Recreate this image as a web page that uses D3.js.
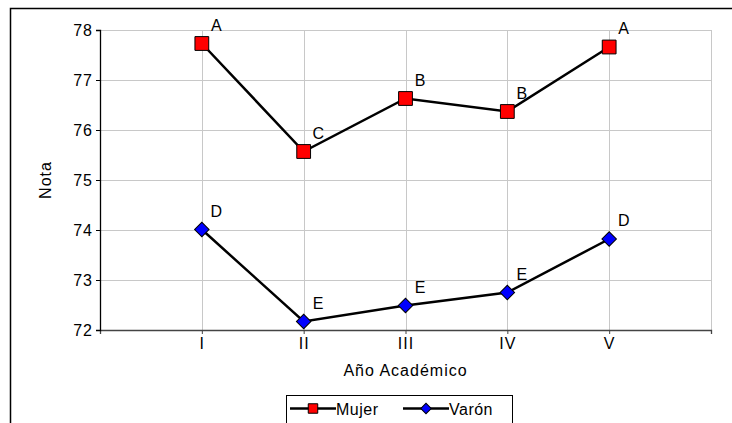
<!DOCTYPE html>
<html>
<head>
<meta charset="utf-8">
<script src="https://cdn.jsdelivr.net/npm/d3@7"></script>
<style>
  html, body { margin: 0; padding: 0; background: #fff; }
  svg { display: block; font-family: "Liberation Sans", Arial, sans-serif; }
  svg text { letter-spacing: 1px; }
</style>
</head>
<body>
<div id="chart"></div>
<script>
// datos del gráfico
var cursos = ["I", "II", "III", "IV", "V"];
var mujer = [77.73, 75.57, 76.63, 76.37, 77.66];
var varon = [74.01, 72.17, 72.49, 72.75, 73.82];
var letrasMujer = ["A", "C", "B", "B", "A"];
var letrasVaron = ["D", "E", "E", "E", "D"];
var yTicks = [72, 73, 74, 75, 76, 77, 78];

var width = 732, height = 423;
var margin = {left: 100, top: 30, right: 21, bottom: 93};
var pw = width - margin.left - margin.right,
    ph = height - margin.top - margin.bottom;

var svg = d3.select("#chart").append("svg")
    .attr("width", width)
    .attr("height", height);

// marco exterior
svg.append("path")
    .attr("d", "M10.5," + height + "V8.5H" + width)
    .attr("fill", "none")
    .attr("stroke", "#000")
    .attr("stroke-width", 1.5);

var x = d3.scaleLinear().domain([0, cursos.length + 1]).range([0, pw]);
var y = d3.scaleLinear().domain([72, 78]).range([ph, 0]);

var g = svg.append("g").attr("transform", "translate(" + margin.left + "," + margin.top + ")");

// rejilla
g.selectAll(".hgrid").data(yTicks).enter().append("line")
    .attr("x1", 0).attr("x2", pw)
    .attr("y1", function(d){ return Math.round(y(d)) + 0.5; })
    .attr("y2", function(d){ return Math.round(y(d)) + 0.5; })
    .attr("stroke", "#c8c8c8");
g.selectAll(".vgrid").data(d3.range(1, cursos.length + 2)).enter().append("line")
    .attr("x1", function(d){ return Math.round(x(d)) + 0.5; })
    .attr("x2", function(d){ return Math.round(x(d)) + 0.5; })
    .attr("y1", 0).attr("y2", ph)
    .attr("stroke", "#c8c8c8");

// eje x
var xAxis = g.append("g").attr("transform", "translate(0," + ph + ")")
    .call(d3.axisBottom(x).tickValues(d3.range(0, cursos.length + 2))
        .tickSize(4).tickPadding(4)
        .tickFormat(function(d){ return cursos[d - 1] || ""; }));
xAxis.select(".domain").attr("stroke", "#444").attr("stroke-width", 1.3);
xAxis.selectAll(".tick line").attr("stroke", "#444");
xAxis.selectAll("text").attr("font-size", 16).attr("fill", "#000")
    .attr("font-family", "Liberation Sans, Arial, sans-serif");

// eje y
var yAxis = g.append("g")
    .call(d3.axisLeft(y).tickValues(yTicks).tickSize(4).tickPadding(3)
        .tickFormat(d3.format("d")));
yAxis.select(".domain").attr("stroke", "#000").attr("stroke-width", 1.3);
yAxis.selectAll(".tick line").attr("stroke", "#000");
yAxis.selectAll("text").attr("font-size", 16).attr("fill", "#000")
    .attr("font-family", "Liberation Sans, Arial, sans-serif");

// títulos de ejes
svg.append("text")
    .attr("x", margin.left + x(3)).attr("y", 376)
    .attr("text-anchor", "middle").attr("font-size", 16)
    .text("Año Académico");
svg.append("text")
    .attr("transform", "translate(51,180) rotate(-90)")
    .attr("text-anchor", "middle").attr("font-size", 16)
    .text("Nota");

var line = d3.line()
    .x(function(d, i){ return x(i + 1); })
    .y(function(d){ return y(d); });

function serie(vals, letras, color, tam, giro) {
    g.append("path").datum(vals)
        .attr("d", line)
        .attr("fill", "none").attr("stroke", "#000").attr("stroke-width", 2.5);
    g.selectAll(null).data(vals).enter().append("path")
        .attr("d", d3.symbol().type(d3.symbolSquare).size(tam))
        .attr("transform", function(d, i){
            return "translate(" + x(i + 1) + "," + y(d) + ") rotate(" + giro + ")";
        })
        .attr("fill", color)
        .attr("stroke", "#000").attr("stroke-width", 1);
    g.selectAll(null).data(vals).enter().append("text")
        .attr("x", function(d, i){ return x(i + 1) + 15; })
        .attr("y", function(d){ return y(d) - 13; })
        .attr("text-anchor", "middle").attr("font-size", 16)
        .text(function(d, i){ return letras[i]; });
}

serie(mujer, letrasMujer, "#ff0000", 190, 0);
serie(varon, letrasVaron, "#0000ff", 105, 45);

// leyenda
var leg = svg.append("g");
leg.append("rect")
    .attr("x", 286.5).attr("y", 395.5).attr("width", 226).attr("height", 40)
    .attr("fill", "#fff").attr("stroke", "#000").attr("stroke-width", 1);
var items = [
    {nombre: "Mujer", x0: 290, color: "#ff0000", tam: 90, giro: 0},
    {nombre: "Varón", x0: 403, color: "#0000ff", tam: 55, giro: 45}
];
items.forEach(function(it){
    var ly = 408.5;
    leg.append("line").attr("x1", it.x0).attr("x2", it.x0 + 46)
        .attr("y1", ly).attr("y2", ly).attr("stroke", "#000").attr("stroke-width", 2.5);
    leg.append("path")
        .attr("d", d3.symbol().type(d3.symbolSquare).size(it.tam))
        .attr("transform", "translate(" + (it.x0 + 23) + "," + ly + ") rotate(" + it.giro + ")")
        .attr("fill", it.color).attr("stroke", "#000").attr("stroke-width", 1);
    leg.append("text").attr("x", it.x0 + 46).attr("y", ly + 6)
        .attr("font-size", 16).style("letter-spacing", "0.5px").text(it.nombre);
});
</script>
</body>
</html>
